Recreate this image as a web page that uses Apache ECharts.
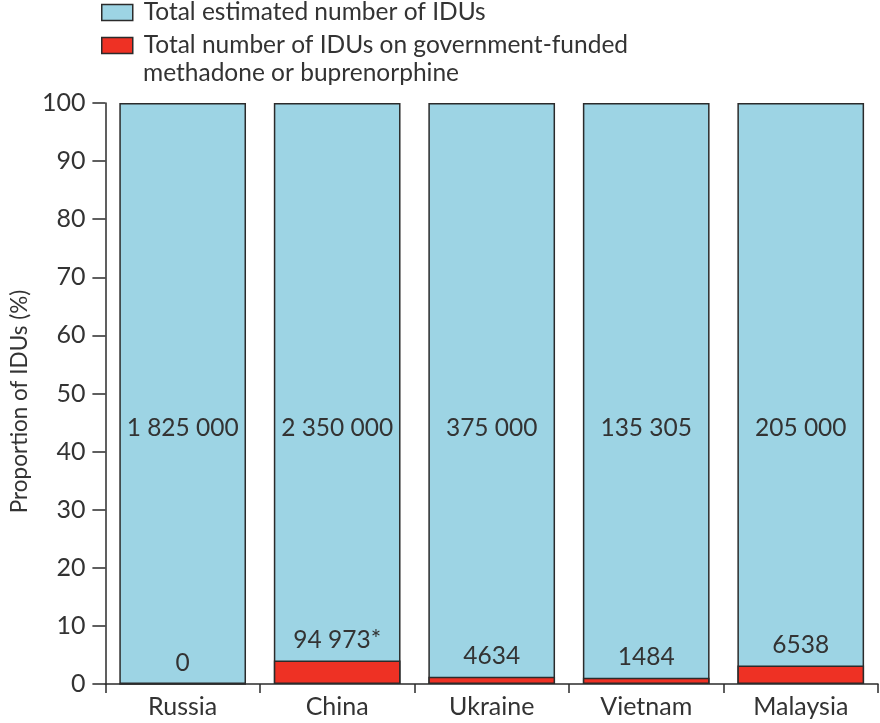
<!DOCTYPE html>
<html>
<head>
<meta charset="utf-8">
<script src="https://cdn.jsdelivr.net/npm/echarts@6/dist/echarts.min.js"></script>
<style>
html,body{margin:0;padding:0;background:#fff;}
#chart{width:880px;height:723px;}
</style>
</head>
<body>
<div id="chart"></div>
<script>
var countries = ['Russia', 'China', 'Ukraine', 'Vietnam', 'Malaysia'];
var totalIDUs = [1825000, 2350000, 375000, 135305, 205000];
var treatedIDUs = [0, 94973, 4634, 1484, 6538];
var treatedNotes = ['', '*', '', '', ''];
var totalProportion = [100, 100, 100, 100, 100];
var yTicks = [0, 10, 20, 30, 40, 50, 60, 70, 80, 90, 100];
var seriesNames = ['Total estimated number of IDUs', 'Total number of IDUs on government-funded'];
var legendContinuation = 'methadone or buprenorphine';

function fmt(n) {
  if (n < 10000) return String(n);
  return String(n).replace(/\B(?=(\d{3})+(?!\d))/g, ' ');
}
var treatedProportion = treatedIDUs.map(function (v, i) { return v / totalIDUs[i] * 100; });

var FONT = 'Lato';
var TXT = '#333333';
var BORDER = '#2b2b2b';
var BLUE = '#9dd4e4';
var RED = '#ee3124';

var chart = echarts.init(document.getElementById('chart'));
chart.setOption({
  animation: false,
  textStyle: { fontFamily: FONT },
  grid: { left: 99, right: 2, top: 103, bottom: 39, containLabel: false },
  legend: {
    orient: 'vertical',
    left: 101,
    top: -4,
    padding: 0,
    itemWidth: 31,
    itemHeight: 16,
    itemGap: 0,
    icon: 'rect',
    selectedMode: false,
    textStyle: { fontFamily: FONT, fontSize: 24.5, color: TXT, lineHeight: 30, padding: [3, 0, 0, 6] },
    data: [
      { name: seriesNames[0], itemStyle: { color: BLUE, borderColor: BORDER, borderWidth: 1.5 } },
      { name: seriesNames[1], itemStyle: { color: RED, borderColor: BORDER, borderWidth: 1.5 } }
    ]
  },
  graphic: [{
    type: 'text',
    left: 143,
    top: 61,
    style: { text: legendContinuation, font: '24.5px Lato', fill: TXT }
  }],
  xAxis: {
    type: 'category',
    data: countries,
    boundaryGap: true,
    axisLine: { lineStyle: { color: BORDER, width: 1.5 } },
    axisTick: { show: true, length: 9, lineStyle: { color: BORDER, width: 1.5 } },
    axisLabel: { fontFamily: FONT, fontSize: 25, color: TXT, margin: 10 }
  },
  yAxis: {
    type: 'value',
    min: 0,
    max: 100,
    interval: 10,
    name: 'Proportion of IDUs (%)',
    nameLocation: 'middle',
    nameGap: 71,
    nameRotate: 90,
    nameTextStyle: { fontFamily: FONT, fontSize: 22.5, color: TXT, padding: [0, 16, 0, 0] },
    axisLine: { show: true, lineStyle: { color: BORDER, width: 1.5 } },
    axisTick: { show: true, length: 13, lineStyle: { color: BORDER, width: 1.5 } },
    axisLabel: { fontFamily: FONT, fontSize: 25, color: TXT, margin: 20,
      formatter: function (v) { return yTicks.indexOf(v) >= 0 ? String(v) : ''; } },
    splitLine: { show: false }
  },
  series: [
    {
      name: seriesNames[0],
      type: 'bar',
      data: totalProportion,
      barWidth: '82%',
      barGap: '-100%',
      itemStyle: { color: BLUE, borderColor: BORDER, borderWidth: 1.5 },
      label: {
        show: true,
        position: ['50%', '56%'],
        align: 'center',
        verticalAlign: 'middle',
        fontFamily: FONT,
        fontSize: 24.5,
        color: TXT,
        formatter: function (p) { return fmt(totalIDUs[p.dataIndex]); }
      }
    },
    {
      name: seriesNames[1],
      type: 'bar',
      data: treatedProportion,
      barWidth: '82%',
      barGap: '-100%',
      z: 3,
      itemStyle: { color: RED, borderColor: BORDER, borderWidth: 1.5 },
      label: {
        show: true,
        position: 'top',
        distance: 8,
        fontFamily: FONT,
        fontSize: 24.5,
        color: TXT,
        formatter: function (p) { return fmt(treatedIDUs[p.dataIndex]) + treatedNotes[p.dataIndex]; }
      }
    }
  ]
});
</script>
</body>
</html>
